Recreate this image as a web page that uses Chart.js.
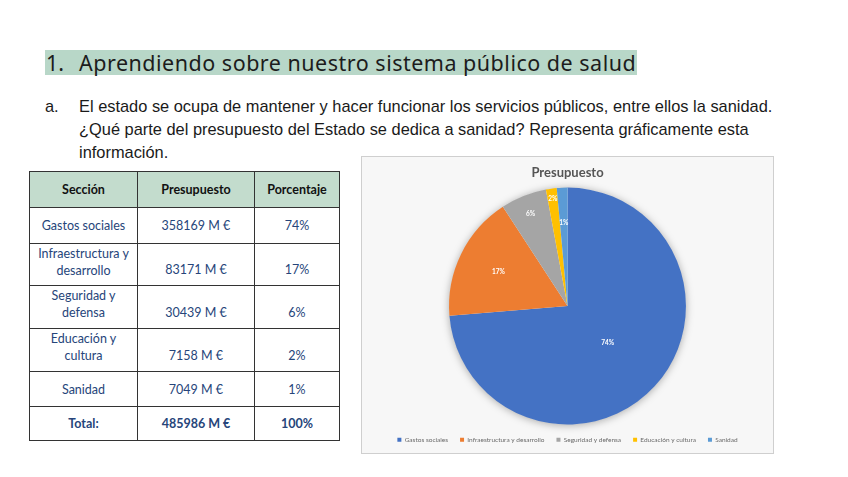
<!DOCTYPE html>
<html lang="es">
<head>
<meta charset="UTF-8">
<title>Presupuesto</title>
<script src="https://cdn.jsdelivr.net/npm/chart.js"></script>
<style>
    body { margin: 0; background: #fff; width: 848px; height: 477px; position: relative; overflow: hidden; }
    #heading {
        position: absolute; left: 45px; top: 50px; width: 592px; height: 25px;
        background: #b8d7c8; font-family: "Noto Sans", sans-serif; font-size: 21.5px;
        line-height: 25px; color: #1c1c1c; white-space: nowrap;
    }
    #heading .num { position: absolute; left: 1px; }
    #heading .txt { position: absolute; left: 34px; letter-spacing: 0.5px; }
    #para {
        position: absolute; left: 45px; top: 95px; width: 780px;
        font-family: "Liberation Sans", Arial, sans-serif; font-size: 16.4px; line-height: 23px;
        color: #1a1a1a; white-space: nowrap;
    }
    #para .lbl { position: absolute; left: 0; top: 0; }
    #para .body { margin-left: 34px; }
    #tbl {
        position: absolute; left: 29px; top: 171px; border-collapse: collapse; table-layout: fixed; width: 310px;
        font-family: Lato, "Open Sans", sans-serif; font-size: 12.5px; color: #26457a;
    }
    #tbl td, #tbl th { border: 1px solid #333; text-align: center; padding: 0 1px; line-height: 17px; }
    #tbl th { background: #c3dccd; color: #111; font-weight: bold; }
    #tbl tr.total td { font-weight: bold; }
    #tbl tr.two td { padding-top: 10px; }
    #tbl tr.two td:first-child { padding-top: 0; padding-bottom: 6px; }
    #chartBox {
        position: absolute; left: 361px; top: 156px; width: 411px; height: 296px;
        background: #f7f7f7; border: 1px solid #cfcfcf;
    }
</style>
</head>
<body>
<div id="heading"><span class="num">1.</span><span class="txt">Aprendiendo sobre nuestro sistema público de salud</span></div>
<div id="para"><span class="lbl">a.</span><div class="body">El estado se ocupa de mantener y hacer funcionar los servicios públicos, entre ellos la sanidad.<br>¿Qué parte del presupuesto del Estado se dedica a sanidad? Representa gráficamente esta<br>información.</div></div>
<table id="tbl"><colgroup><col style="width:108px"><col style="width:117px"><col style="width:85px"></colgroup><tbody id="tbody"></tbody></table>
<div id="chartBox"><canvas id="pie"></canvas></div>
<script>
    const sections = ['Gastos sociales', 'Infraestructura y desarrollo', 'Seguridad y defensa', 'Educación y cultura', 'Sanidad'];
    const tableSections = ['Gastos sociales', 'Infraestructura y<br>desarrollo', 'Seguridad y<br>defensa', 'Educación y<br>cultura', 'Sanidad'];
    const budgets = [358169, 83171, 30439, 7158, 7049]; // millones de euros
    const percents = ['74%', '17%', '6%', '2%', '1%'];
    const totalBudget = 485986;
    const colors = ['#4472c4', '#ed7d31', '#a5a5a5', '#ffc000', '#5b9bd5'];

    // tabla
    const rowHeights = [36, 42, 43, 43, 35];
    let html = '<tr style="height:36px"><th>Sección</th><th>Presupuesto</th><th>Porcentaje</th></tr>';
    sections.forEach((s, i) => {
        const cls = tableSections[i].includes('<br>') ? 'two' : '';
        html += `<tr class="${cls}" style="height:${rowHeights[i]}px"><td>${tableSections[i]}</td><td>${budgets[i]} M €</td><td>${percents[i]}</td></tr>`;
    });
    html += `<tr class="total" style="height:34px"><td>Total:</td><td>${totalBudget} M €</td><td>100%</td></tr>`;
    document.getElementById('tbody').innerHTML = html;

    // sombra bajo la tarta
    const pieShadow = {
        id: 'pieShadow',
        beforeDatasetsDraw(chart) {
            const arc = chart.getDatasetMeta(0).data[0];
            if (!arc) return;
            const { x, y, outerRadius } = arc.getProps(['x', 'y', 'outerRadius'], true);
            const ctx = chart.ctx;
            ctx.save();
            ctx.shadowColor = 'rgba(0,0,0,0.35)';
            ctx.shadowBlur = 8;
            ctx.shadowOffsetY = 1;
            ctx.fillStyle = '#f7f7f7';
            ctx.beginPath();
            ctx.arc(x, y, outerRadius - 0.5, 0, Math.PI * 2);
            ctx.fill();
            ctx.restore();
        }
    };

    // etiquetas de porcentaje (ajuste tipo "mejor ajuste" de Excel)
    const labelRadius = [0.46, 0.65, 0.84, 0.91, 0.70];
    const sliceLabels = {
        id: 'sliceLabels',
        afterDatasetsDraw(chart) {
            const ctx = chart.ctx;
            ctx.save();
            ctx.fillStyle = '#fff';
            ctx.font = 'bold 6.5px Lato, sans-serif';
            ctx.textAlign = 'center';
            ctx.textBaseline = 'middle';
            chart.getDatasetMeta(0).data.forEach((arc, i) => {
                const p = arc.getProps(['x', 'y', 'startAngle', 'endAngle', 'outerRadius'], true);
                const mid = (p.startAngle + p.endAngle) / 2;
                const r = p.outerRadius * labelRadius[i];
                ctx.fillText(percents[i], p.x + Math.cos(mid) * r, p.y + Math.sin(mid) * r);
            });
            ctx.restore();
        }
    };

    new Chart(document.getElementById('pie'), {
        type: 'pie',
        data: {
            labels: sections,
            datasets: [{
                data: budgets,
                backgroundColor: colors,
                borderWidth: 0
            }]
        },
        options: {
            responsive: true,
            maintainAspectRatio: false,
            animation: false,
            layout: { padding: { top: 0, bottom: 0 } },
            plugins: {
                title: {
                    display: true,
                    text: 'Presupuesto',
                    color: '#555555',
                    font: { family: 'Lato', size: 13, weight: 'bold' },
                    padding: { top: 8, bottom: 7 }
                },
                legend: {
                    position: 'bottom',
                    labels: {
                        color: '#6a6a6a',
                        font: { family: 'Lato', size: 6.5 },
                        boxWidth: 4,
                        boxHeight: 4,
                        padding: 12
                    }
                },
                tooltip: { enabled: false }
            }
        },
        plugins: [pieShadow, sliceLabels]
    });
</script>
</body>
</html>
